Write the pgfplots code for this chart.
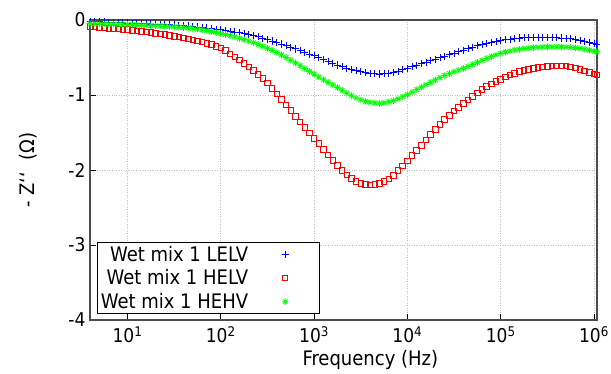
\documentclass[border=0pt]{standalone}
\usepackage{pgfplots}
\pgfplotsset{compat=1.18}
\usepackage{pgfplotstable}
\usepackage{fontspec}
\setmainfont{DejaVu Sans Condensed}

\pgfdeclareplotmark{gstar}{%
\pgfpathmoveto{\pgfqpoint{-\pgfplotmarksize}{0pt}}\pgfpathlineto{\pgfqpoint{\pgfplotmarksize}{0pt}}%
\pgfpathmoveto{\pgfqpoint{0pt}{-\pgfplotmarksize}}\pgfpathlineto{\pgfqpoint{0pt}{\pgfplotmarksize}}%
\pgfpathmoveto{\pgfqpoint{-.707\pgfplotmarksize}{-.707\pgfplotmarksize}}\pgfpathlineto{\pgfqpoint{.707\pgfplotmarksize}{.707\pgfplotmarksize}}%
\pgfpathmoveto{\pgfqpoint{-.707\pgfplotmarksize}{.707\pgfplotmarksize}}\pgfpathlineto{\pgfqpoint{.707\pgfplotmarksize}{-.707\pgfplotmarksize}}%
\pgfusepathqstroke}

% lf = log10(frequency / Hz)
\pgfplotstableread{
lf b r g
0.60 -0.020 -0.090 -0.050
0.65 -0.022 -0.095 -0.051
0.70 -0.025 -0.100 -0.052
0.75 -0.027 -0.105 -0.054
0.80 -0.030 -0.110 -0.055
0.85 -0.032 -0.115 -0.056
0.90 -0.035 -0.120 -0.057
0.95 -0.037 -0.125 -0.059
1.00 -0.040 -0.130 -0.060
1.05 -0.042 -0.137 -0.063
1.10 -0.045 -0.144 -0.066
1.15 -0.047 -0.151 -0.069
1.20 -0.050 -0.159 -0.072
1.25 -0.053 -0.167 -0.075
1.30 -0.056 -0.176 -0.078
1.35 -0.059 -0.185 -0.081
1.40 -0.062 -0.195 -0.085
1.45 -0.065 -0.205 -0.089
1.50 -0.068 -0.216 -0.093
1.55 -0.072 -0.227 -0.097
1.60 -0.076 -0.239 -0.101
1.65 -0.081 -0.252 -0.107
1.70 -0.087 -0.265 -0.114
1.75 -0.094 -0.280 -0.122
1.80 -0.101 -0.295 -0.131
1.85 -0.108 -0.312 -0.142
1.90 -0.115 -0.330 -0.154
1.95 -0.122 -0.352 -0.167
2.00 -0.130 -0.375 -0.180
2.05 -0.140 -0.410 -0.195
2.10 -0.150 -0.455 -0.210
2.15 -0.160 -0.495 -0.226
2.20 -0.172 -0.535 -0.243
2.25 -0.184 -0.580 -0.261
2.30 -0.196 -0.625 -0.281
2.35 -0.209 -0.675 -0.302
2.40 -0.225 -0.725 -0.325
2.45 -0.242 -0.780 -0.350
2.50 -0.260 -0.840 -0.377
2.55 -0.280 -0.910 -0.405
2.60 -0.300 -0.985 -0.435
2.65 -0.320 -1.060 -0.467
2.70 -0.342 -1.135 -0.500
2.75 -0.364 -1.210 -0.535
2.80 -0.386 -1.285 -0.572
2.85 -0.408 -1.360 -0.610
2.90 -0.430 -1.435 -0.648
2.95 -0.453 -1.505 -0.685
3.00 -0.476 -1.580 -0.722
3.05 -0.500 -1.650 -0.760
3.10 -0.525 -1.725 -0.797
3.15 -0.550 -1.800 -0.832
3.20 -0.575 -1.875 -0.866
3.25 -0.600 -1.940 -0.900
3.30 -0.622 -2.005 -0.938
3.35 -0.642 -2.065 -0.975
3.40 -0.660 -2.115 -1.010
3.45 -0.675 -2.155 -1.040
3.50 -0.690 -2.180 -1.065
3.55 -0.702 -2.195 -1.085
3.60 -0.712 -2.200 -1.098
3.65 -0.718 -2.195 -1.106
3.70 -0.720 -2.180 -1.110
3.75 -0.718 -2.155 -1.105
3.80 -0.710 -2.120 -1.092
3.85 -0.698 -2.070 -1.075
3.90 -0.682 -2.010 -1.052
3.95 -0.664 -1.945 -1.025
4.00 -0.645 -1.880 -0.995
4.05 -0.625 -1.810 -0.962
4.10 -0.605 -1.740 -0.928
4.15 -0.585 -1.670 -0.895
4.20 -0.565 -1.600 -0.862
4.25 -0.545 -1.530 -0.830
4.30 -0.525 -1.460 -0.798
4.35 -0.505 -1.395 -0.768
4.40 -0.485 -1.330 -0.740
4.45 -0.465 -1.270 -0.714
4.50 -0.445 -1.215 -0.690
4.55 -0.425 -1.165 -0.668
4.60 -0.405 -1.115 -0.645
4.65 -0.385 -1.065 -0.620
4.70 -0.365 -1.020 -0.593
4.75 -0.345 -0.975 -0.565
4.80 -0.328 -0.930 -0.538
4.85 -0.312 -0.890 -0.512
4.90 -0.298 -0.855 -0.488
4.95 -0.285 -0.820 -0.465
5.00 -0.274 -0.790 -0.445
5.05 -0.264 -0.760 -0.428
5.10 -0.255 -0.735 -0.413
5.15 -0.247 -0.710 -0.400
5.20 -0.240 -0.690 -0.390
5.25 -0.236 -0.672 -0.381
5.30 -0.233 -0.657 -0.374
5.35 -0.231 -0.645 -0.368
5.40 -0.230 -0.635 -0.364
5.45 -0.230 -0.627 -0.361
5.50 -0.231 -0.620 -0.359
5.55 -0.233 -0.615 -0.358
5.60 -0.236 -0.612 -0.358
5.65 -0.240 -0.612 -0.359
5.70 -0.245 -0.615 -0.362
5.75 -0.252 -0.625 -0.366
5.80 -0.262 -0.640 -0.372
5.85 -0.273 -0.660 -0.380
5.90 -0.285 -0.680 -0.390
5.95 -0.298 -0.700 -0.402
6.00 -0.312 -0.720 -0.416
6.03 -0.320 -0.735 -0.425
}\datatable

\begin{document}
\begin{tikzpicture}
\begin{axis}[
  scale only axis,
  width=507pt, height=300pt,
  xmin=0.598, xmax=6.032,
  ymin=-4, ymax=0,
  xtick={1,2,3,4,5,6},
  xticklabels={10\textsuperscript{1},10\textsuperscript{2},10\textsuperscript{3},10\textsuperscript{4},10\textsuperscript{5},10\textsuperscript{6}},
  ytick={-4,-3,-2,-1,0},
  yticklabels={-4,-3,-2,-1,0},
  tick pos=left,
  tick align=inside,
  major tick length=6pt,
  tick style={black, line width=0.8pt},
  axis line style={gray!60!black, line width=1.3pt},
  grid=major,
  grid style={dotted, gray!50, line width=0.9pt},
  tick label style={font=\fontsize{19}{22}\selectfont},
  xticklabel style={yshift=-3pt},
  yticklabel style={xshift=-1pt},
  xlabel={Frequency (Hz)},
  ylabel={- Z\symbol{96}\symbol{96}\ \ (Ω)},
  every axis x label/.style={at={(axis description cs:0.553,-0.133)}, anchor=center, font=\fontsize{20}{24}\selectfont},
  every axis y label/.style={at={(axis description cs:-0.122,0.5)}, rotate=90, anchor=center, font=\fontsize{20}{24}\selectfont},
  legend plot pos=right,
  legend cell align=right,
  legend style={at={(axis description cs:0,0)}, anchor=south west, xshift=7pt, yshift=6pt,
    draw=black, line width=0.8pt, font=\fontsize{20}{22}\selectfont,
    inner sep=1.5pt, row sep=3pt},
  legend image code/.code={%
    \path[draw=none,fill=none] (0pt,-2pt) rectangle (68pt,2pt);
    \draw[mark repeat=2,mark phase=2,#1] plot coordinates {(0pt,0pt) (35pt,0pt) (68pt,0pt)};},
]
\addplot[only marks, mark=+, color=blue, mark size=3.6pt, line width=0.9pt] table[x=lf, y=b] {\datatable};
\addlegendentry{Wet mix 1 LELV}
\addplot[only marks, mark=square, color=red, mark size=2.8pt, line width=0.9pt] table[x=lf, y=r] {\datatable};
\addlegendentry{Wet mix 1 HELV}
\addplot[only marks, mark=gstar, color=green, mark size=3.3pt, line width=0.8pt] table[x=lf, y=g] {\datatable};
\addlegendentry{Wet mix 1 HEHV}
\end{axis}
\pgfresetboundingbox
\useasboundingbox ([xshift=-90pt,yshift=-54pt]current axis.south west) rectangle ([xshift=14pt,yshift=20pt]current axis.north east);
\end{tikzpicture}
\end{document}
